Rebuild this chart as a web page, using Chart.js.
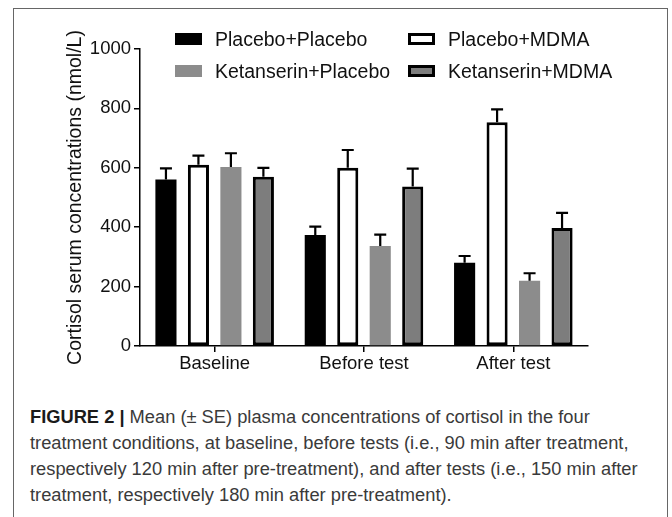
<!DOCTYPE html>
<html>
<head>
<meta charset="utf-8">
<script src="https://cdn.jsdelivr.net/npm/chart.js@4"></script>
<style>
  html, body { margin: 0; padding: 0; background: #fff; }
  body { width: 672px; height: 517px; position: relative; overflow: hidden; font-family: 'Liberation Sans', Arial, sans-serif; }
  #frame { position: absolute; left: 13px; top: 8px; width: 653px; height: 520px; border: 1.5px solid #666; border-bottom: none; }
  #wrap { position: absolute; left: 0; top: 0; width: 672px; height: 390px; }
  #legend { position: absolute; left: 0; top: 0; }
  .item { position: absolute; height: 22px; font-size: 19.5px; line-height: 22px; color: #111; white-space: nowrap; }
  .sw { position: absolute; top: 5px; width: 27px; height: 12px; box-sizing: border-box; }
  .item span { position: absolute; left: 40px; top: 0; }
  #caption { position: absolute; left: 30px; top: 404px; width: 636px; font-size: 18.3px; line-height: 26px; color: #3a3a3a; white-space: nowrap; }
  #caption b { color: #1a1a1a; }
</style>
</head>
<body>
<div id="frame"></div>
<div id="wrap"><canvas id="myChart" width="672" height="390"></canvas></div>
<div id="legend"></div>
<div id="caption"><b>FIGURE 2 |</b> Mean (± SE) plasma concentrations of cortisol in the four<br>treatment conditions, at baseline, before tests (i.e., 90 min after treatment,<br>respectively 120 min after pre-treatment), and after tests (i.e., 150 min after<br>treatment, respectively 180 min after pre-treatment).</div>

<script>
let categories = ['Baseline', 'Before test', 'After test'];

let series_names = ['Placebo+Placebo', 'Placebo+MDMA', 'Ketanserin+Placebo', 'Ketanserin+MDMA'];

// means
let placebo_placebo = [561, 374, 280];
let placebo_mdma = [610, 600, 753];
let ketanserin_placebo = [603, 337, 220];
let ketanserin_mdma = [570, 537, 397];

// standard errors (only upper whisker drawn)
let se_placebo_placebo = [37, 28, 23];
let se_placebo_mdma = [31, 60, 44];
let se_ketanserin_placebo = [46, 38, 25];
let se_ketanserin_mdma = [30, 60, 51];

let y_ticks = [0, 200, 400, 600, 800, 1000];

let fills = ['#000000', '#ffffff', '#8c8c8c', '#7d7d7d'];
let borders = [0, 3, 0, 3];

let all_values = [placebo_placebo, placebo_mdma, ketanserin_placebo, ketanserin_mdma];
let all_se = [se_placebo_placebo, se_placebo_mdma, se_ketanserin_placebo, se_ketanserin_mdma];

let font_family = "'Liberation Sans', Arial, sans-serif";

let datasets = [];
for (let i = 0; i < series_names.length; i++) {
  datasets.push({
    label: series_names[i],
    data: all_values[i],
    se: all_se[i],
    backgroundColor: fills[i],
    borderColor: '#000000',
    borderWidth: borders[i],
    borderSkipped: false,
    categoryPercentage: 0.87,
    barPercentage: 0.65
  });
}

// draws the upward error bar with a cap
const errorBars = {
  id: 'errorBars',
  afterDatasetsDraw(chart) {
    let ctx = chart.ctx;
    let y = chart.scales.y;
    ctx.save();
    ctx.strokeStyle = '#000';
    ctx.lineWidth = 2.2;
    chart.data.datasets.forEach(function (ds, di) {
      let meta = chart.getDatasetMeta(di);
      meta.data.forEach(function (bar, i) {
        let top = y.getPixelForValue(ds.data[i]);
        let up = y.getPixelForValue(ds.data[i] + ds.se[i]);
        ctx.beginPath();
        ctx.moveTo(bar.x, top);
        ctx.lineTo(bar.x, up);
        ctx.moveTo(bar.x - 6, up);
        ctx.lineTo(bar.x + 6, up);
        ctx.stroke();
      });
    });
    ctx.restore();
  }
};

let myChart = new Chart(document.getElementById('myChart'), {
  type: 'bar',
  data: { labels: categories, datasets: datasets },
  options: {
    responsive: false,
    animation: false,
    layout: { padding: { left: 0, right: 84, top: 49, bottom: 0 } },
    plugins: { legend: { display: false }, tooltip: { enabled: false } },
    scales: {
      x: {
        grid: { display: true, offset: false, drawOnChartArea: false, color: '#000', tickLength: 6, lineWidth: 1.5 },
        border: { color: '#000', width: 1.5 },
        ticks: { color: '#111', padding: 1, font: { family: font_family, size: 18.5 } },
        afterFit: function (scale) { scale.height = 44; }
      },
      y: {
        min: 0,
        max: 1000,
        afterBuildTicks: function (scale) { scale.ticks = y_ticks.map(v => ({ value: v })); },
        grid: { display: true, drawOnChartArea: false, color: '#000', tickLength: 6, lineWidth: 1.5 },
        border: { color: '#000', width: 1.5 },
        ticks: { color: '#111', padding: 3, font: { family: font_family, size: 18.5 }, callback: v => String(v) },
        title: {
          display: true,
          text: 'Cortisol serum concentrations (nmol/L)',
          color: '#111',
          font: { family: font_family, size: 19.5, lineHeight: 1.2 },
          padding: { top: 64, bottom: 0 }
        },
        afterFit: function (scale) { scale.width = 140; }
      }
    }
  },
  plugins: [errorBars]
});

// legend in two columns, built from the datasets
let legend_pos = [[175, 28], [408, 28], [175, 60], [408, 60]];
let legend = document.getElementById('legend');
myChart.data.datasets.forEach(function (ds, i) {
  let item = document.createElement('div');
  item.className = 'item';
  item.style.left = legend_pos[i][0] + 'px';
  item.style.top = legend_pos[i][1] + 'px';
  let sw = document.createElement('div');
  sw.className = 'sw';
  sw.style.background = ds.backgroundColor;
  if (ds.borderWidth > 0) sw.style.border = ds.borderWidth + 'px solid #000';
  let txt = document.createElement('span');
  txt.textContent = ds.label;
  item.appendChild(sw);
  item.appendChild(txt);
  legend.appendChild(item);
});
</script>
</body>
</html>
